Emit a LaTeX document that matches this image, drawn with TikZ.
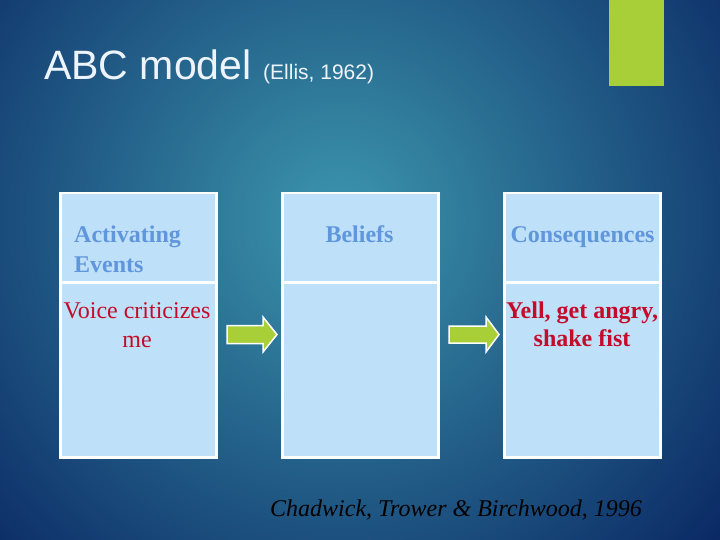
\documentclass[tikz,border=0pt]{standalone}
\usepackage{fontspec}
\setmainfont{Liberation Serif}
\newfontfamily\titlefont{Liberation Sans}
\definecolor{bgdark}{HTML}{0A2864}
\definecolor{bglight}{HTML}{3C96AD}
\definecolor{cellfill}{HTML}{BEE0F9}
\definecolor{headblue}{HTML}{6096DC}
\definecolor{txtred}{HTML}{C40C2A}
\definecolor{limegreen}{HTML}{A8CF38}
\definecolor{titlewhite}{HTML}{EEF4FB}
\tikzset{
  cell/.style={draw=white, line width=2.5pt, fill=cellfill, inner sep=0pt, anchor=north west},
  headtxt/.style={font=\bfseries\fontsize{24}{28}\selectfont, text=headblue, inner sep=0pt},
  bodytxt/.style={font=\fontsize{24}{28}\selectfont, text=txtred, inner sep=0pt, align=center},
  greenarrow/.style={fill=limegreen, draw=white, line width=1.5pt, line join=miter}
}
\begin{document}
\begin{tikzpicture}[x=1pt,y=-1pt]
\useasboundingbox (0,0) rectangle (720,540);
\begin{scope}
\clip (0,0) rectangle (720,540);
\fill[bgdark] (0,0) rectangle (720,540);
\shade[inner color=bglight, outer color=bgdark] (340-500,220-500) rectangle (340+500,220+500);
\end{scope}
% green bar
\fill[limegreen] (609,0) rectangle (664,86);
% title
\node[anchor=base west, inner sep=0pt, text=titlewhite, font=\titlefont\fontsize{41}{45}\selectfont] (title) at (44,80) {ABC model};
\node[anchor=base west, inner sep=0pt, text=titlewhite, font=\titlefont\fontsize{21}{24}\selectfont] (ellis) at (263,80) {(Ellis, 1962)};
% columns
\node[cell, minimum width=156pt, minimum height=89pt] (h1) at (59,192) {};
\node[cell, minimum width=156pt, minimum height=175pt] (b1) at (59,281) {};
\node[cell, minimum width=156pt, minimum height=89pt] (h2) at (281,192) {};
\node[cell, minimum width=156pt, minimum height=175pt] (b2) at (281,281) {};
\node[cell, minimum width=156pt, minimum height=89pt] (h3) at (503,192) {};
\node[cell, minimum width=156pt, minimum height=175pt] (b3) at (503,281) {};
% header texts
\node[headtxt, anchor=base west] (t1a) at (74,243) {Activating};
\node[headtxt, anchor=base west] (t1b) at (74,272) {Events};
\node[headtxt, anchor=base] (t2) at (359.5,243) {Beliefs};
\node[headtxt, anchor=base] (t3) at (582.5,243) {Consequences};
% body texts
\node[bodytxt, anchor=base] (v1) at (137,318) {Voice criticizes};
\node[bodytxt, anchor=base] (v2) at (137,347) {me};
\node[bodytxt, font=\bfseries\fontsize{24}{28}\selectfont, anchor=base] (y1) at (582,318) {Yell, get angry,};
\node[bodytxt, font=\bfseries\fontsize{24}{28}\selectfont, anchor=base] (y2) at (582,346) {shake fist};
% arrows
\draw[greenarrow] (227,325.5) -- (263,325.5) -- (263,317) -- (277,334.5) -- (263,352) -- (263,343.5) -- (227,343.5) -- cycle;
\draw[greenarrow] (449,326) -- (486,326) -- (486,317) -- (499,334.5) -- (486,352) -- (486,343) -- (449,343) -- cycle;
% citation
\node[anchor=base west, inner sep=0pt, font=\itshape\fontsize{24}{28}\selectfont, text=black] (cite) at (270,516) {Chadwick, Trower \& Birchwood, 1996};
\end{tikzpicture}
\end{document}
